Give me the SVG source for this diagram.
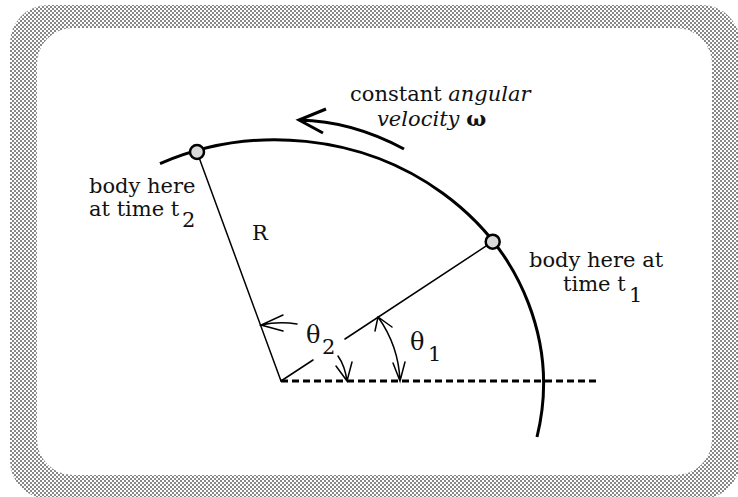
<svg xmlns="http://www.w3.org/2000/svg" width="738" height="497" viewBox="0 0 738 497">
<style>
.txt{font-family:"DejaVu Serif","Liberation Serif",serif;font-size:21px;fill:#111}
.it{font-style:italic}
.th{font-family:"DejaVu Serif","Liberation Serif",serif;font-size:24px;fill:#111}
.thin{fill:none;stroke:#000;stroke-width:1.5;stroke-linecap:round}
.thick{fill:none;stroke:#000;stroke-width:3;stroke-linecap:butt}
.body{fill:#d9d9d9;stroke:#000;stroke-width:2.5}
</style>
<defs>
<pattern id="dots" width="4" height="4" patternUnits="userSpaceOnUse">
<rect width="4" height="4" fill="#fff"/>
<rect width="2" height="2" fill="#888"/>
<rect x="2" y="2" width="2" height="2" fill="#888"/>
</pattern>
</defs>
<rect width="738" height="497" fill="#fff"/>
<g id="frame">
<rect x="10" y="5" width="730" height="494" rx="38" fill="url(#dots)"/>
<rect x="37" y="28" width="675" height="447" rx="36" fill="#fff"/>
</g>
<g id="orbit">
<path class="thick" d="M160,163.6 A268,244 0 0 1 537,437"/>
</g>
<g id="connectors">
<line class="thin" x1="197" y1="152" x2="281" y2="381"/>
<line class="thin" x1="492.7" y1="241.7" x2="345" y2="339"/>
<line class="thin" x1="313" y1="360" x2="281" y2="381"/>
<line x1="281" y1="381" x2="600" y2="381" stroke="#000" stroke-width="3" stroke-dasharray="7 4"/>
<path class="thick" d="M404,149 Q352,121 299,120 M326,109 L299,120 L323,133" stroke-linejoin="miter"/>
<path class="thin" d="M378,317 A118,118 0 0 1 400,381 M375,331 L378,317 L392,327 M393,363 L400,381 L405,362"/>
<path class="thin" d="M297,324 Q279,321 261,325 M283,315 L261,325 L283,331"/>
<path class="thin" d="M338,356 Q345,366 347,381 M336,366 L347,381 L352,362"/>
</g>
<g id="body-t2">
<circle class="body" cx="197" cy="152" r="7"/>
<text class="txt" x="89" y="193">body here</text>
<text class="txt" x="89" y="216">at time t</text>
<text class="txt" x="182" y="227">2</text>
</g>
<g id="body-t1">
<circle class="body" cx="492.7" cy="241.7" r="7"/>
<text class="txt" x="529" y="267">body here at</text>
<text class="txt" x="563" y="291">time t</text>
<text class="txt" x="629" y="302">1</text>
</g>
<g id="label-omega">
<text class="txt" x="350" y="101">constant <tspan class="it">angular</tspan></text>
<text class="txt" x="377" y="126"><tspan class="it">velocity</tspan> <tspan font-weight="bold">ω</tspan></text>
</g>
<g id="label-R">
<text class="txt" x="252" y="240">R</text>
</g>
<g id="theta2">
<text class="th" x="306" y="343">θ</text>
<text class="txt" x="322" y="354">2</text>
</g>
<g id="theta1">
<text class="th" x="410" y="350">θ</text>
<text class="txt" x="428" y="361">1</text>
</g>
</svg>
